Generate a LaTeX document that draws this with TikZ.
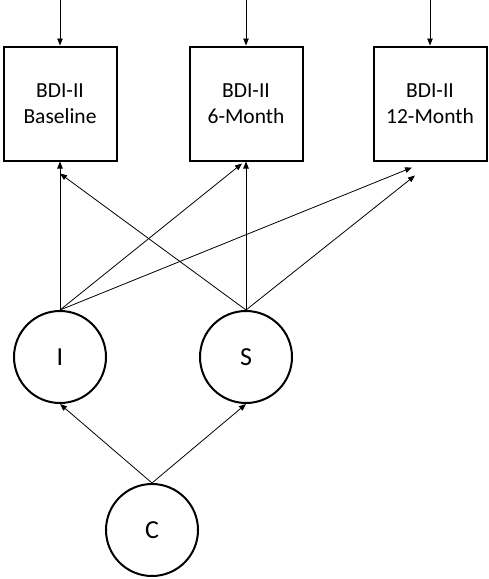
\documentclass[tikz,border=0pt]{standalone}
\usepackage{fontspec}
\setmainfont{Carlito}
\usetikzlibrary{arrows.meta}
\begin{document}
\begin{tikzpicture}[x=1pt,y=-1pt,
  box/.style={draw, line width=2pt, minimum width=113pt, minimum height=114pt, align=center, font=\fontsize{21.5}{26}\selectfont, inner sep=0pt},
  lat/.style={draw, circle, line width=2pt, minimum size=92pt, inner sep=0pt, font=\fontsize{26}{28}\selectfont},
  arr/.style={-{Triangle[length=7pt,width=5.5pt]}, line width=0.8pt}]
\useasboundingbox (0,0) rectangle (488,579);
\node[box] (b1) at (60,103.5) {BDI-II\\Baseline};
\node[box] (b2) at (246,103.5) {BDI-II\\6-Month};
\node[box] (b3) at (430,103.5) {BDI-II\\12-Month};
\node[lat] (I) at (60,357) {I};
\node[lat] (S) at (246,357) {S};
\node[lat] (C) at (152,530) {C};
\coordinate (t1) at (60,0);
\coordinate (t2) at (246,0);
\coordinate (t3) at (430,0);
\draw[arr] (t1) -- (b1.north);
\draw[arr] (t2) -- (b2.north);
\draw[arr] (t3) -- (b3.north);
\draw[arr] (I.north) -- (b1.south);
\draw[arr] (I.north) -- ([xshift=-4pt,yshift=-2pt]b2.south);
\draw[arr] (I.north) -- ([xshift=-18pt,yshift=-6pt]b3.south);
\draw[arr] (S.north) -- ([yshift=-12pt]b1.south);
\draw[arr] (S.north) -- (b2.south);
\draw[arr] (S.north) -- ([xshift=-15pt,yshift=-14pt]b3.south);
\draw[arr] (C.north) -- (I.south);
\draw[arr] (C.north) -- (S.south);
\end{tikzpicture}
\end{document}
